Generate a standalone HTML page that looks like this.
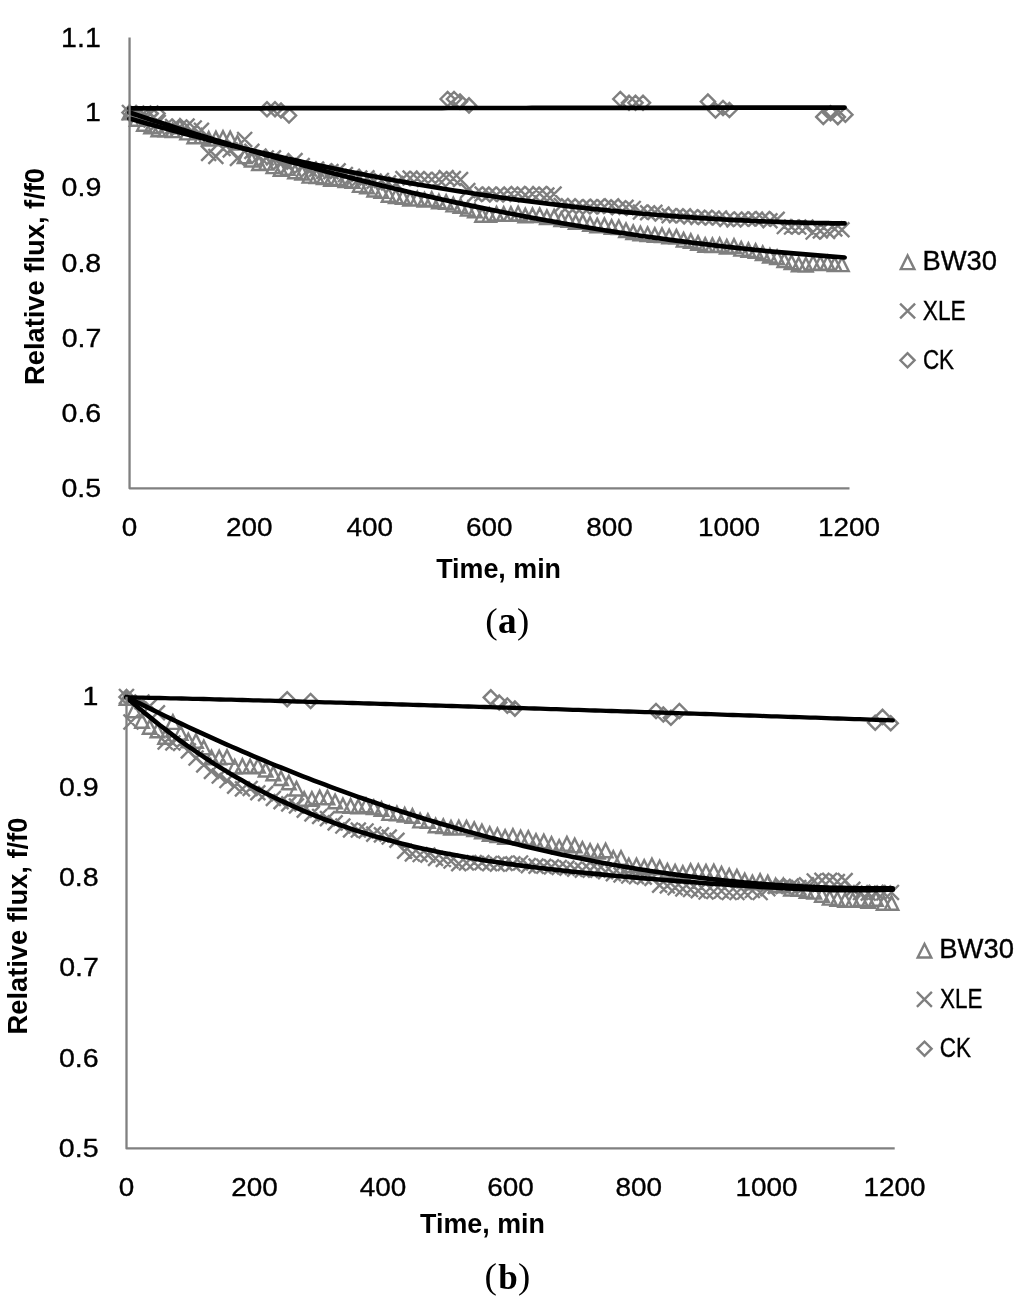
<!DOCTYPE html>
<html lang="en"><head><meta charset="utf-8"><title>Relative flux vs time</title>
<style>html,body{margin:0;padding:0;background:#fff}svg{display:block}</style></head>
<body>
<svg width="1024" height="1300" viewBox="0 0 1024 1300">
<rect width="1024" height="1300" fill="#fff"/>
<path d="M122.7 119.3L129.5 105.7L136.3 119.3ZM129.9 125.8L136.7 112.2L143.5 125.8ZM137.1 130.8L143.9 117.2L150.7 130.8ZM144.3 133.3L151.1 119.7L157.9 133.3ZM151.5 136.2L158.3 122.6L165.1 136.2ZM158.7 136.6L165.5 123.0L172.3 136.6ZM165.9 137.1L172.7 123.5L179.5 137.1ZM173.1 133.3L179.9 119.7L186.7 133.3ZM180.3 139.4L187.1 125.8L193.9 139.4ZM187.5 143.2L194.3 129.6L201.1 143.2ZM194.7 143.1L201.5 129.5L208.3 143.1ZM201.9 145.5L208.7 131.9L215.5 145.5ZM209.1 145.4L215.9 131.8L222.7 145.4ZM216.2 144.9L223.0 131.3L229.8 144.9ZM223.4 145.3L230.2 131.7L237.0 145.3ZM230.6 149.6L237.4 136.0L244.2 149.6ZM237.8 163.1L244.6 149.5L251.4 163.1ZM245.0 166.5L251.8 152.9L258.6 166.5ZM252.2 170.0L259.0 156.4L265.8 170.0ZM259.4 169.6L266.2 156.0L273.0 169.6ZM266.6 173.1L273.4 159.5L280.2 173.1ZM273.8 175.9L280.6 162.3L287.4 175.9ZM281.0 174.7L287.8 161.1L294.6 174.7ZM288.2 178.2L295.0 164.6L301.8 178.2ZM295.4 179.5L302.2 165.9L309.0 179.5ZM302.6 182.6L309.4 169.0L316.2 182.6ZM309.8 183.1L316.6 169.5L323.4 183.1ZM317.0 184.0L323.8 170.4L330.6 184.0ZM324.2 185.7L331.0 172.1L337.8 185.7ZM331.4 184.9L338.2 171.3L345.0 184.9ZM338.6 187.0L345.4 173.4L352.2 187.0ZM345.8 187.7L352.6 174.1L359.4 187.7ZM353.0 191.9L359.8 178.3L366.6 191.9ZM360.2 193.3L367.0 179.7L373.8 193.3ZM367.4 196.5L374.2 182.9L381.0 196.5ZM374.6 197.9L381.4 184.3L388.2 197.9ZM381.8 201.8L388.6 188.2L395.4 201.8ZM389.0 203.1L395.8 189.5L402.6 203.1ZM396.1 203.9L402.9 190.3L409.7 203.9ZM403.3 205.6L410.1 192.0L416.9 205.6ZM410.5 205.4L417.3 191.8L424.1 205.4ZM417.7 206.6L424.5 193.0L431.3 206.6ZM424.9 205.9L431.7 192.3L438.5 205.9ZM432.1 208.2L438.9 194.6L445.7 208.2ZM439.3 208.7L446.1 195.1L452.9 208.7ZM446.5 211.4L453.3 197.8L460.1 211.4ZM453.7 212.7L460.5 199.1L467.3 212.7ZM460.9 215.5L467.7 201.9L474.5 215.5ZM468.1 217.4L474.9 203.8L481.7 217.4ZM475.3 221.8L482.1 208.2L488.9 221.8ZM482.5 221.7L489.3 208.1L496.1 221.7ZM489.7 220.5L496.5 206.9L503.3 220.5ZM496.9 220.9L503.7 207.3L510.5 220.9ZM504.1 220.9L510.9 207.3L517.7 220.9ZM511.3 220.4L518.1 206.8L524.9 220.4ZM518.5 222.4L525.3 208.8L532.1 222.4ZM525.7 222.0L532.5 208.4L539.3 222.0ZM532.9 222.0L539.7 208.4L546.5 222.0ZM540.1 224.1L546.9 210.5L553.7 224.1ZM547.3 223.5L554.1 209.9L560.9 223.5ZM554.5 226.1L561.3 212.5L568.1 226.1ZM561.7 226.8L568.5 213.2L575.3 226.8ZM568.9 228.9L575.7 215.3L582.5 228.9ZM576.0 228.6L582.8 215.0L589.6 228.6ZM583.2 230.7L590.0 217.1L596.8 230.7ZM590.4 232.2L597.2 218.6L604.0 232.2ZM597.6 232.0L604.4 218.4L611.2 232.0ZM604.8 233.7L611.6 220.1L618.4 233.7ZM612.0 234.0L618.8 220.4L625.6 234.0ZM619.2 237.1L626.0 223.5L632.8 237.1ZM626.4 239.1L633.2 225.5L640.0 239.1ZM633.6 240.3L640.4 226.7L647.2 240.3ZM640.8 241.1L647.6 227.5L654.4 241.1ZM648.0 241.8L654.8 228.2L661.6 241.8ZM655.2 242.0L662.0 228.4L668.8 242.0ZM662.4 243.2L669.2 229.6L676.0 243.2ZM669.6 243.6L676.4 230.0L683.2 243.6ZM676.8 246.6L683.6 233.0L690.4 246.6ZM684.0 247.7L690.8 234.1L697.6 247.7ZM691.2 249.7L698.0 236.1L704.8 249.7ZM698.4 251.7L705.2 238.1L712.0 251.7ZM705.6 252.1L712.4 238.5L719.2 252.1ZM712.8 251.8L719.6 238.2L726.4 251.8ZM720.0 253.5L726.8 239.9L733.6 253.5ZM727.2 252.7L734.0 239.1L740.8 252.7ZM734.4 255.6L741.2 242.0L748.0 255.6ZM741.6 256.7L748.4 243.1L755.2 256.7ZM748.8 257.7L755.6 244.1L762.4 257.7ZM755.9 260.1L762.7 246.5L769.5 260.1ZM763.1 262.5L769.9 248.9L776.7 262.5ZM770.3 264.0L777.1 250.4L783.9 264.0ZM777.5 267.0L784.3 253.4L791.1 267.0ZM784.7 269.1L791.5 255.5L798.3 269.1ZM791.9 271.4L798.7 257.8L805.5 271.4ZM799.1 271.6L805.9 258.0L812.7 271.6ZM806.3 269.6L813.1 256.0L819.9 269.6ZM813.5 270.1L820.3 256.5L827.1 270.1ZM820.7 269.6L827.5 256.0L834.3 269.6ZM827.9 271.1L834.7 257.5L841.5 271.1ZM835.1 271.1L841.9 257.5L848.7 271.1Z" fill="none" stroke="#7f7f7f" stroke-width="2.4" stroke-linejoin="miter"/>
<path d="M122.0 105.0L136.9 120.0M122.0 120.0L136.9 105.0M129.2 107.5L144.1 122.4M129.2 122.4L144.1 107.5M136.4 109.5L151.3 124.4M136.4 124.4L151.3 109.5M143.6 112.6L158.5 127.5M143.6 127.5L158.5 112.6M150.8 115.0L165.7 129.9M150.8 129.9L165.7 115.0M158.0 118.5L172.9 133.4M158.0 133.4L172.9 118.5M165.2 119.0L180.1 133.9M165.2 133.9L180.1 119.0M172.4 119.5L187.3 134.4M172.4 134.4L187.3 119.5M179.6 118.6L194.5 133.5M179.6 133.5L194.5 118.6M186.8 120.5L201.7 135.4M186.8 135.4L201.7 120.5M194.0 122.8L208.9 137.7M194.0 137.7L208.9 122.8M201.2 145.9L216.1 160.8M201.2 160.8L216.1 145.9M208.4 149.0L223.3 163.9M208.4 163.9L223.3 149.0M215.6 141.1L230.5 156.0M215.6 156.0L230.5 141.1M222.8 142.5L237.7 157.4M222.8 157.4L237.7 142.5M230.0 151.0L244.9 165.9M230.0 165.9L244.9 151.0M237.2 132.0L252.1 146.9M237.2 146.9L252.1 132.0M244.4 143.9L259.3 158.8M244.4 158.8L259.3 143.9M251.6 148.6L266.5 163.5M251.6 163.5L266.5 148.6M258.8 150.5L273.7 165.4M258.8 165.4L273.7 150.5M266.0 150.4L280.9 165.3M266.0 165.3L280.9 150.4M273.2 154.7L288.1 169.6M273.2 169.6L288.1 154.7M280.4 158.5L295.3 173.4M280.4 173.4L295.3 158.5M287.6 153.1L302.5 168.0M287.6 168.0L302.5 153.1M294.8 158.1L309.7 173.0M294.8 173.0L309.7 158.1M301.9 161.4L316.8 176.3M301.9 176.3L316.8 161.4M309.1 161.7L324.0 176.6M309.1 176.6L324.0 161.7M316.3 164.0L331.2 178.9M316.3 178.9L331.2 164.0M323.5 164.2L338.4 179.1M323.5 179.1L338.4 164.2M330.7 163.3L345.6 178.2M330.7 178.2L345.6 163.3M337.9 167.1L352.8 182.0M337.9 182.0L352.8 167.1M345.1 168.8L360.0 183.7M345.1 183.7L360.0 168.8M352.3 170.6L367.2 185.5M352.3 185.5L367.2 170.6M359.5 170.4L374.4 185.3M359.5 185.3L374.4 170.4M366.7 173.7L381.6 188.6M366.7 188.6L381.6 173.7M373.9 173.0L388.8 187.9M373.9 187.9L388.8 173.0M381.1 175.4L396.0 190.3M381.1 190.3L396.0 175.4M388.3 176.0L403.2 190.9M388.3 190.9L403.2 176.0M395.5 171.2L410.4 186.0M395.5 186.0L410.4 171.2M402.7 170.7L417.6 185.5M402.7 185.5L417.6 170.7M409.9 171.2L424.8 186.0M409.9 186.0L424.8 171.2M417.1 172.2L432.0 187.0M417.1 187.0L432.0 172.2M424.3 172.2L439.2 187.0M424.3 187.0L439.2 172.2M431.5 172.2L446.4 187.0M431.5 187.0L446.4 172.2M438.7 170.2L453.6 185.0M438.7 185.0L453.6 170.2M445.9 171.2L460.8 186.0M445.9 186.0L460.8 171.2M453.1 172.2L468.0 187.0M453.1 187.0L468.0 172.2M460.3 183.1L475.2 198.0M460.3 198.0L475.2 183.1M467.5 187.1L482.4 201.9M467.5 201.9L482.4 187.1M474.7 186.6L489.6 201.4M474.7 201.4L489.6 186.6M481.9 186.6L496.8 201.4M481.9 201.4L496.8 186.6M489.0 187.6L503.9 202.4M489.0 202.4L503.9 187.6M496.2 187.1L511.1 201.9M496.2 201.9L511.1 187.1M503.4 186.6L518.3 201.4M503.4 201.4L518.3 186.6M510.6 186.1L525.5 200.9M510.6 200.9L525.5 186.1M517.8 187.6L532.7 202.4M517.8 202.4L532.7 187.6M525.0 186.6L539.9 201.4M525.0 201.4L539.9 186.6M532.2 186.1L547.1 200.9M532.2 200.9L547.1 186.1M539.4 187.6L554.3 202.4M539.4 202.4L554.3 187.6M546.6 186.6L561.5 201.4M546.6 201.4L561.5 186.6M553.8 198.0L568.7 212.9M553.8 212.9L568.7 198.0M561.0 198.4L575.9 213.2M561.0 213.2L575.9 198.4M568.2 199.4L583.1 214.2M568.2 214.2L583.1 199.4M575.4 199.4L590.3 214.2M575.4 214.2L590.3 199.4M582.6 199.4L597.5 214.2M582.6 214.2L597.5 199.4M589.8 198.9L604.7 213.8M589.8 213.8L604.7 198.9M597.0 199.4L611.9 214.2M597.0 214.2L611.9 199.4M604.2 198.4L619.1 213.2M604.2 213.2L619.1 198.4M611.4 200.4L626.3 215.2M611.4 215.2L626.3 200.4M618.6 199.9L633.5 214.8M618.6 214.8L633.5 199.9M625.8 201.0L640.7 215.9M625.8 215.9L640.7 201.0M633.0 204.6L647.9 219.5M633.0 219.5L647.9 204.6M640.2 205.3L655.1 220.2M640.2 220.2L655.1 205.3M647.4 204.9L662.3 219.8M647.4 219.8L662.3 204.9M654.6 206.6L669.5 221.5M654.6 221.5L669.5 206.6M661.7 208.3L676.6 223.2M661.7 223.2L676.6 208.3M668.9 208.3L683.8 223.2M668.9 223.2L683.8 208.3M676.1 208.3L691.0 223.2M676.1 223.2L691.0 208.3M683.3 209.4L698.2 224.3M683.3 224.3L698.2 209.4M690.5 209.9L705.4 224.8M690.5 224.8L705.4 209.9M697.7 209.9L712.6 224.8M697.7 224.8L712.6 209.9M704.9 210.5L719.8 225.4M704.9 225.4L719.8 210.5M712.1 210.5L727.0 225.4M712.1 225.4L727.0 210.5M719.3 212.0L734.2 226.9M719.3 226.9L734.2 212.0M726.5 212.5L741.4 227.4M726.5 227.4L741.4 212.5M733.7 211.6L748.6 226.5M733.7 226.5L748.6 211.6M740.9 211.6L755.8 226.5M740.9 226.5L755.8 211.6M748.1 211.7L763.0 226.6M748.1 226.6L763.0 211.7M755.3 211.2L770.2 226.1M755.3 226.1L770.2 211.2M762.5 213.3L777.4 228.2M762.5 228.2L777.4 213.3M769.7 211.8L784.6 226.7M769.7 226.7L784.6 211.8M776.9 219.2L791.8 234.0M776.9 234.0L791.8 219.2M784.1 219.7L799.0 234.5M784.1 234.5L799.0 219.7M791.3 219.7L806.2 234.5M791.3 234.5L806.2 219.7M798.5 219.7L813.4 234.5M798.5 234.5L813.4 219.7M805.7 224.6L820.6 239.5M805.7 239.5L820.6 224.6M812.9 223.5L827.8 238.4M812.9 238.4L827.8 223.5M820.1 223.9L835.0 238.8M820.1 238.8L835.0 223.9M827.3 221.4L842.2 236.3M827.3 236.3L842.2 221.4M834.5 222.3L849.4 237.2M834.5 237.2L849.4 222.3" fill="none" stroke="#7f7f7f" stroke-width="2.4" stroke-linejoin="miter"/>
<path d="M122.4 112.5L129.5 105.4L136.6 112.5L129.5 119.6ZM129.3 113.6L136.4 106.5L143.5 113.6L136.4 120.7ZM136.3 113.6L143.4 106.5L150.5 113.6L143.4 120.7ZM143.4 113.6L150.5 106.5L157.6 113.6L150.5 120.7ZM150.4 113.6L157.5 106.5L164.6 113.6L157.5 120.7ZM259.9 109.2L267.0 102.1L274.1 109.2L267.0 116.3ZM267.9 109.2L275.0 102.1L282.1 109.2L275.0 116.3ZM273.9 110.5L281.0 103.4L288.1 110.5L281.0 117.6ZM281.9 115.5L289.0 108.4L296.1 115.5L289.0 122.6ZM440.5 99.0L447.6 91.9L454.7 99.0L447.6 106.1ZM446.9 99.0L454.0 91.9L461.1 99.0L454.0 106.1ZM452.9 101.6L460.0 94.5L467.1 101.6L460.0 108.7ZM461.9 105.4L469.0 98.3L476.1 105.4L469.0 112.5ZM613.2 99.0L620.3 91.9L627.4 99.0L620.3 106.1ZM621.9 102.8L629.0 95.7L636.1 102.8L629.0 109.9ZM628.4 102.8L635.5 95.7L642.6 102.8L635.5 109.9ZM635.9 102.8L643.0 95.7L650.1 102.8L643.0 109.9ZM700.8 101.6L707.9 94.5L715.0 101.6L707.9 108.7ZM708.4 110.5L715.5 103.4L722.6 110.5L715.5 117.6ZM715.9 108.0L723.0 100.9L730.1 108.0L723.0 115.1ZM722.3 110.0L729.4 102.9L736.5 110.0L729.4 117.1ZM816.2 116.9L823.3 109.8L830.4 116.9L823.3 124.0ZM823.4 113.2L830.5 106.1L837.6 113.2L830.5 120.3ZM830.7 117.1L837.8 110.0L844.9 117.1L837.8 124.2ZM838.3 114.7L845.4 107.6L852.5 114.7L845.4 121.8Z" fill="none" stroke="#7f7f7f" stroke-width="2.4" stroke-linejoin="miter"/>
<path d="M129.5 108.4L135.5 108.4L141.5 108.4L147.5 108.4L153.5 108.4L159.5 108.4L165.6 108.4L171.6 108.4L177.6 108.3L183.6 108.3L189.6 108.3L195.6 108.3L201.6 108.3L207.6 108.3L213.6 108.3L219.6 108.3L225.6 108.3L231.7 108.3L237.7 108.3L243.7 108.3L249.7 108.3L255.7 108.3L261.7 108.3L267.7 108.2L273.7 108.2L279.7 108.2L285.7 108.2L291.7 108.2L297.8 108.2L303.8 108.2L309.8 108.2L315.8 108.2L321.8 108.2L327.8 108.2L333.8 108.2L339.8 108.2L345.8 108.2L351.8 108.2L357.9 108.1L363.9 108.1L369.9 108.1L375.9 108.1L381.9 108.1L387.9 108.1L393.9 108.1L399.9 108.1L405.9 108.1L411.9 108.1L417.9 108.1L424.0 108.1L430.0 108.1L436.0 108.1L442.0 108.1L448.0 108.0L454.0 108.0L460.0 108.0L466.0 108.0L472.0 108.0L478.0 108.0L484.0 108.0L490.1 108.0L496.1 108.0L502.1 108.0L508.1 108.0L514.1 108.0L520.1 108.0L526.1 108.0L532.1 107.9L538.1 107.9L544.1 107.9L550.1 107.9L556.2 107.9L562.2 107.9L568.2 107.9L574.2 107.9L580.2 107.9L586.2 107.9L592.2 107.9L598.2 107.9L604.2 107.9L610.2 107.9L616.2 107.9L622.3 107.8L628.3 107.8L634.3 107.8L640.3 107.8L646.3 107.8L652.3 107.8L658.3 107.8L664.3 107.8L670.3 107.8L676.3 107.8L682.4 107.8L688.4 107.8L694.4 107.8L700.4 107.8L706.4 107.8L712.4 107.7L718.4 107.7L724.4 107.7L730.4 107.7L736.4 107.7L742.4 107.7L748.5 107.7L754.5 107.7L760.5 107.7L766.5 107.7L772.5 107.7L778.5 107.7L784.5 107.7L790.5 107.7L796.5 107.7L802.5 107.6L808.5 107.6L814.6 107.6L820.6 107.6L826.6 107.6L832.6 107.6L838.6 107.6L844.6 107.6" fill="none" stroke="#000" stroke-width="4.7" stroke-linecap="round" stroke-linejoin="round"/>
<path d="M129.5 118.6L135.5 120.3L141.5 122.0L147.5 123.7L153.5 125.3L159.5 126.9L165.6 128.6L171.6 130.2L177.6 131.8L183.6 133.4L189.6 135.0L195.6 136.5L201.6 138.1L207.6 139.6L213.6 141.1L219.6 142.6L225.6 144.1L231.7 145.6L237.7 147.0L243.7 148.5L249.7 149.9L255.7 151.3L261.7 152.7L267.7 154.1L273.7 155.5L279.7 156.9L285.7 158.2L291.7 159.6L297.8 160.9L303.8 162.2L309.8 163.5L315.8 164.8L321.8 166.1L327.8 167.3L333.8 168.5L339.8 169.8L345.8 171.0L351.8 172.2L357.9 173.4L363.9 174.5L369.9 175.7L375.9 176.8L381.9 178.0L387.9 179.1L393.9 180.2L399.9 181.3L405.9 182.4L411.9 183.4L417.9 184.5L424.0 185.5L430.0 186.5L436.0 187.5L442.0 188.5L448.0 189.5L454.0 190.5L460.0 191.4L466.0 192.3L472.0 193.3L478.0 194.2L484.0 195.1L490.1 195.9L496.1 196.8L502.1 197.7L508.1 198.5L514.1 199.3L520.1 200.1L526.1 200.9L532.1 201.7L538.1 202.5L544.1 203.2L550.1 204.0L556.2 204.7L562.2 205.4L568.2 206.1L574.2 206.8L580.2 207.5L586.2 208.2L592.2 208.8L598.2 209.4L604.2 210.0L610.2 210.7L616.2 211.2L622.3 211.8L628.3 212.4L634.3 212.9L640.3 213.5L646.3 214.0L652.3 214.5L658.3 215.0L664.3 215.5L670.3 215.9L676.3 216.4L682.4 216.8L688.4 217.2L694.4 217.7L700.4 218.1L706.4 218.4L712.4 218.8L718.4 219.2L724.4 219.5L730.4 219.8L736.4 220.1L742.4 220.4L748.5 220.7L754.5 221.0L760.5 221.3L766.5 221.5L772.5 221.7L778.5 221.9L784.5 222.1L790.5 222.3L796.5 222.5L802.5 222.7L808.5 222.8L814.6 223.0L820.6 223.1L826.6 223.2L832.6 223.3L838.6 223.3L844.6 223.4" fill="none" stroke="#000" stroke-width="4.7" stroke-linecap="round" stroke-linejoin="round"/>
<path d="M129.5 112.4L135.5 114.4L141.5 116.4L147.5 118.4L153.5 120.4L159.5 122.3L165.6 124.3L171.6 126.2L177.6 128.2L183.6 130.1L189.6 132.0L195.6 133.9L201.6 135.7L207.6 137.6L213.6 139.4L219.6 141.3L225.6 143.1L231.7 144.9L237.7 146.7L243.7 148.5L249.7 150.2L255.7 152.0L261.7 153.7L267.7 155.4L273.7 157.1L279.7 158.8L285.7 160.5L291.7 162.2L297.8 163.8L303.8 165.5L309.8 167.1L315.8 168.7L321.8 170.3L327.8 171.9L333.8 173.5L339.8 175.0L345.8 176.6L351.8 178.1L357.9 179.6L363.9 181.1L369.9 182.6L375.9 184.1L381.9 185.6L387.9 187.0L393.9 188.5L399.9 189.9L405.9 191.3L411.9 192.7L417.9 194.1L424.0 195.4L430.0 196.8L436.0 198.1L442.0 199.5L448.0 200.8L454.0 202.1L460.0 203.4L466.0 204.6L472.0 205.9L478.0 207.1L484.0 208.4L490.1 209.6L496.1 210.8L502.1 212.0L508.1 213.2L514.1 214.3L520.1 215.5L526.1 216.6L532.1 217.7L538.1 218.9L544.1 220.0L550.1 221.0L556.2 222.1L562.2 223.2L568.2 224.2L574.2 225.2L580.2 226.2L586.2 227.2L592.2 228.2L598.2 229.2L604.2 230.2L610.2 231.1L616.2 232.1L622.3 233.0L628.3 233.9L634.3 234.8L640.3 235.7L646.3 236.5L652.3 237.4L658.3 238.2L664.3 239.0L670.3 239.8L676.3 240.6L682.4 241.4L688.4 242.2L694.4 243.0L700.4 243.7L706.4 244.4L712.4 245.1L718.4 245.8L724.4 246.5L730.4 247.2L736.4 247.9L742.4 248.5L748.5 249.2L754.5 249.8L760.5 250.4L766.5 251.0L772.5 251.6L778.5 252.1L784.5 252.7L790.5 253.2L796.5 253.7L802.5 254.2L808.5 254.7L814.6 255.2L820.6 255.7L826.6 256.2L832.6 256.6L838.6 257.0L844.6 257.5" fill="none" stroke="#000" stroke-width="4.7" stroke-linecap="round" stroke-linejoin="round"/>
<path d="M129.55 37.5V488.3H849.5" fill="none" stroke="#808080" stroke-width="2.3" stroke-linejoin="round"/>
<path d="M119.7 704.8L126.5 691.2L133.3 704.8ZM127.4 717.3L134.2 703.7L141.0 717.3ZM135.2 727.7L142.0 714.1L148.8 727.7ZM142.9 733.8L149.7 720.2L156.5 733.8ZM150.6 737.3L157.4 723.7L164.2 737.3ZM158.3 743.7L165.1 730.1L171.9 743.7ZM166.1 728.9L172.9 715.3L179.7 728.9ZM173.8 739.8L180.6 726.2L187.4 739.8ZM181.5 747.3L188.3 733.7L195.1 747.3ZM189.2 747.8L196.0 734.2L202.8 747.8ZM197.0 754.3L203.8 740.7L210.6 754.3ZM204.7 764.3L211.5 750.7L218.3 764.3ZM212.4 764.2L219.2 750.6L226.0 764.2ZM220.2 763.9L227.0 750.3L233.8 763.9ZM227.9 773.5L234.7 759.9L241.5 773.5ZM235.6 772.9L242.4 759.3L249.2 772.9ZM243.3 773.2L250.1 759.6L256.9 773.2ZM251.1 772.6L257.9 759.0L264.7 772.6ZM258.8 776.5L265.6 762.9L272.4 776.5ZM266.5 780.3L273.3 766.7L280.1 780.3ZM274.2 785.0L281.0 771.4L287.8 785.0ZM282.0 789.3L288.8 775.7L295.6 789.3ZM289.7 795.5L296.5 781.9L303.3 795.5ZM297.4 805.8L304.2 792.2L311.0 805.8ZM305.1 805.8L311.9 792.2L318.7 805.8ZM312.9 804.3L319.7 790.7L326.5 804.3ZM320.6 804.3L327.4 790.7L334.2 804.3ZM328.3 808.3L335.1 794.7L341.9 808.3ZM336.1 812.3L342.9 798.7L349.7 812.3ZM343.8 812.8L350.6 799.2L357.4 812.8ZM351.5 813.3L358.3 799.7L365.1 813.3ZM359.2 812.1L366.0 798.5L372.8 812.1ZM367.0 814.0L373.8 800.4L380.6 814.0ZM374.7 815.7L381.5 802.1L388.3 815.7ZM382.4 819.9L389.2 806.3L396.0 819.9ZM390.1 820.2L396.9 806.6L403.7 820.2ZM397.9 821.5L404.7 807.9L411.5 821.5ZM405.6 822.7L412.4 809.1L419.2 822.7ZM413.3 827.4L420.1 813.8L426.9 827.4ZM421.1 827.8L427.9 814.2L434.7 827.8ZM428.8 832.2L435.6 818.6L442.4 832.2ZM436.5 833.0L443.3 819.4L450.1 833.0ZM444.2 834.5L451.0 820.9L457.8 834.5ZM452.0 834.4L458.8 820.8L465.6 834.4ZM459.7 834.5L466.5 820.9L473.3 834.5ZM467.4 836.0L474.2 822.4L481.0 836.0ZM475.1 838.4L481.9 824.8L488.7 838.4ZM482.9 840.7L489.7 827.1L496.5 840.7ZM490.6 842.0L497.4 828.4L504.2 842.0ZM498.3 843.9L505.1 830.3L511.9 843.9ZM506.1 842.7L512.9 829.1L519.6 842.7ZM513.8 844.2L520.6 830.6L527.4 844.2ZM521.5 844.8L528.3 831.2L535.1 844.8ZM529.2 847.8L536.0 834.2L542.8 847.8ZM537.0 848.3L543.8 834.7L550.6 848.3ZM544.7 850.8L551.5 837.2L558.3 850.8ZM552.4 853.7L559.2 840.1L566.0 853.7ZM560.1 850.6L566.9 837.0L573.7 850.6ZM567.9 852.3L574.7 838.7L581.5 852.3ZM575.6 855.9L582.4 842.3L589.2 855.9ZM583.3 857.7L590.1 844.1L596.9 857.7ZM591.0 858.6L597.8 845.0L604.6 858.6ZM598.8 857.3L605.6 843.7L612.4 857.3ZM606.5 864.9L613.3 851.3L620.1 864.9ZM614.2 864.8L621.0 851.2L627.8 864.8ZM622.0 872.2L628.8 858.6L635.6 872.2ZM629.7 872.2L636.5 858.6L643.3 872.2ZM637.4 873.7L644.2 860.1L651.0 873.7ZM645.1 872.2L651.9 858.6L658.7 872.2ZM652.9 874.2L659.7 860.6L666.5 874.2ZM660.6 877.5L667.4 863.9L674.2 877.5ZM668.3 878.6L675.1 865.0L681.9 878.6ZM676.0 879.8L682.8 866.2L689.6 879.8ZM683.8 877.9L690.6 864.3L697.4 877.9ZM691.5 878.0L698.3 864.4L705.1 878.0ZM699.2 878.6L706.0 865.0L712.8 878.6ZM707.0 878.3L713.8 864.7L720.6 878.3ZM714.7 880.6L721.5 867.0L728.3 880.6ZM722.4 882.6L729.2 869.0L736.0 882.6ZM730.1 883.5L736.9 869.9L743.7 883.5ZM737.9 887.4L744.7 873.8L751.5 887.4ZM745.6 889.2L752.4 875.6L759.2 889.2ZM753.3 887.7L760.1 874.1L766.9 887.7ZM761.0 889.2L767.8 875.6L774.6 889.2ZM768.8 892.2L775.6 878.6L782.4 892.2ZM776.5 892.2L783.3 878.6L790.1 892.2ZM784.2 895.5L791.0 881.9L797.8 895.5ZM791.9 895.8L798.7 882.2L805.5 895.8ZM799.7 897.7L806.5 884.1L813.3 897.7ZM807.4 898.6L814.2 885.0L821.0 898.6ZM815.1 901.8L821.9 888.2L828.7 901.8ZM822.9 904.6L829.7 891.0L836.5 904.6ZM830.6 905.8L837.4 892.2L844.2 905.8ZM838.3 906.8L845.1 893.2L851.9 906.8ZM846.0 906.8L852.8 893.2L859.6 906.8ZM853.8 905.8L860.6 892.2L867.4 905.8ZM861.5 907.8L868.3 894.2L875.1 907.8ZM869.2 905.8L876.0 892.2L882.8 905.8ZM876.9 909.7L883.7 896.1L890.5 909.7ZM884.7 909.7L891.5 896.1L898.3 909.7Z" fill="none" stroke="#7f7f7f" stroke-width="2.4" stroke-linejoin="miter"/>
<path d="M119.0 689.0L133.9 704.0M119.0 704.0L133.9 689.0M123.5 714.5L138.4 729.5M123.5 729.5L138.4 714.5M134.5 694.5L149.4 709.4M134.5 709.4L149.4 694.5M142.2 698.8L157.1 713.7M142.2 713.7L157.1 698.8M150.0 705.3L164.9 720.2M150.0 720.2L164.9 705.3M157.7 734.6L172.6 749.5M157.7 749.5L172.6 734.6M165.4 735.5L180.3 750.4M165.4 750.4L180.3 735.5M173.1 736.0L188.0 750.9M173.1 750.9L188.0 736.0M180.9 743.4L195.8 758.3M180.9 758.3L195.8 743.4M188.6 750.6L203.5 765.5M188.6 765.5L203.5 750.6M196.3 757.5L211.2 772.4M196.3 772.4L211.2 757.5M204.0 764.0L218.9 778.9M204.0 778.9L218.9 764.0M211.8 768.6L226.7 783.5M211.8 783.5L226.7 768.6M219.5 773.1L234.4 788.0M219.5 788.0L234.4 773.1M227.2 778.7L242.1 793.6M227.2 793.6L242.1 778.7M235.0 781.4L249.9 796.3M235.0 796.3L249.9 781.4M242.7 781.0L257.6 795.9M242.7 795.9L257.6 781.0M250.4 785.3L265.3 800.2M250.4 800.2L265.3 785.3M258.1 786.2L273.0 801.1M258.1 801.1L273.0 786.2M265.9 791.0L280.8 805.9M265.9 805.9L280.8 791.0M273.6 794.2L288.5 809.1M273.6 809.1L288.5 794.2M281.3 796.4L296.2 811.3M281.3 811.3L296.2 796.4M289.0 798.5L303.9 813.4M289.0 813.4L303.9 798.5M296.8 802.7L311.7 817.6M296.8 817.6L311.7 802.7M304.5 806.4L319.4 821.3M304.5 821.3L319.4 806.4M312.2 809.0L327.1 823.9M312.2 823.9L327.1 809.0M320.0 811.2L334.9 826.1M320.0 826.1L334.9 811.2M327.7 815.4L342.6 830.3M327.7 830.3L342.6 815.4M335.4 818.6L350.3 833.5M335.4 833.5L350.3 818.6M343.1 822.5L358.0 837.4M343.1 837.4L358.0 822.5M350.9 822.6L365.8 837.5M350.9 837.5L365.8 822.6M358.6 823.5L373.5 838.4M358.6 838.4L373.5 823.5M366.3 826.7L381.2 841.6M366.3 841.6L381.2 826.7M374.0 827.4L388.9 842.3M374.0 842.3L388.9 827.4M381.8 829.6L396.7 844.5M381.8 844.5L396.7 829.6M389.5 832.8L404.4 847.7M389.5 847.7L404.4 832.8M397.2 843.8L412.1 858.7M397.2 858.7L412.1 843.8M404.9 846.5L419.8 861.4M404.9 861.4L419.8 846.5M412.7 847.1L427.6 862.0M412.7 862.0L427.6 847.1M420.4 847.7L435.3 862.6M420.4 862.6L435.3 847.7M428.1 850.9L443.0 865.8M428.1 865.8L443.0 850.9M435.9 852.0L450.8 866.9M435.9 866.9L450.8 852.0M443.6 853.6L458.5 868.5M443.6 868.5L458.5 853.6M451.3 856.3L466.2 871.2M451.3 871.2L466.2 856.3M459.0 855.4L473.9 870.3M459.0 870.3L473.9 855.4M466.8 855.1L481.7 870.0M466.8 870.0L481.7 855.1M474.5 855.2L489.4 870.1M474.5 870.1L489.4 855.2M482.2 856.2L497.1 871.1M482.2 871.1L497.1 856.2M489.9 856.8L504.8 871.7M489.9 871.7L504.8 856.8M497.7 855.9L512.6 870.8M497.7 870.8L512.6 855.9M505.4 856.4L520.3 871.3M505.4 871.3L520.3 856.4M513.1 855.5L528.0 870.4M513.1 870.4L528.0 855.5M520.9 858.2L535.8 873.1M520.9 873.1L535.8 858.2M528.6 858.7L543.5 873.6M528.6 873.6L543.5 858.7M536.3 858.8L551.2 873.7M536.3 873.7L551.2 858.8M544.0 859.4L558.9 874.3M544.0 874.3L558.9 859.4M551.8 860.0L566.7 874.9M551.8 874.9L566.7 860.0M559.5 860.7L574.4 875.6M559.5 875.6L574.4 860.7M567.2 861.7L582.1 876.6M567.2 876.6L582.1 861.7M574.9 862.7L589.8 877.6M574.9 877.6L589.8 862.7M582.7 862.7L597.6 877.6M582.7 877.6L597.6 862.7M590.4 862.7L605.3 877.6M590.4 877.6L605.3 862.7M598.1 864.3L613.0 879.2M598.1 879.2L613.0 864.3M605.9 866.2L620.8 881.1M605.9 881.1L620.8 866.2M613.6 867.5L628.5 882.4M613.6 882.4L628.5 867.5M621.3 868.6L636.2 883.5M621.3 883.5L636.2 868.6M629.0 869.2L643.9 884.1M629.0 884.1L643.9 869.2M636.8 869.8L651.7 884.7M636.8 884.7L651.7 869.8M644.5 870.9L659.4 885.8M644.5 885.8L659.4 870.9M652.2 877.8L667.1 892.7M652.2 892.7L667.1 877.8M659.9 878.5L674.8 893.4M659.9 893.4L674.8 878.5M667.7 880.2L682.6 895.1M667.7 895.1L682.6 880.2M675.4 881.4L690.3 896.3M675.4 896.3L690.3 881.4M683.1 882.1L698.0 897.0M683.1 897.0L698.0 882.1M690.8 883.3L705.7 898.2M690.8 898.2L705.7 883.3M698.6 884.5L713.5 899.5M698.6 899.5L713.5 884.5M706.3 884.0L721.2 899.0M706.3 899.0L721.2 884.0M714.0 883.5L728.9 898.5M714.0 898.5L728.9 883.5M721.8 885.0L736.7 900.0M721.8 900.0L736.7 885.0M729.5 885.0L744.4 900.0M729.5 900.0L744.4 885.0M737.2 884.5L752.1 899.5M737.2 899.5L752.1 884.5M744.9 883.0L759.8 898.0M744.9 898.0L759.8 883.0M752.7 885.0L767.6 900.0M752.7 900.0L767.6 885.0M760.4 881.2L775.3 896.1M760.4 896.1L775.3 881.2M768.1 879.0L783.0 893.9M768.1 893.9L783.0 879.0M775.8 878.9L790.7 893.8M775.8 893.8L790.7 878.9M783.6 878.7L798.5 893.6M783.6 893.6L798.5 878.7M791.3 880.1L806.2 895.0M791.3 895.0L806.2 880.1M799.0 877.3L813.9 892.2M799.0 892.2L813.9 877.3M806.8 873.5L821.7 888.4M806.8 888.4L821.7 873.5M814.5 872.9L829.4 887.8M814.5 887.8L829.4 872.9M822.2 872.8L837.1 887.7M822.2 887.7L837.1 872.8M829.9 874.2L844.8 889.1M829.9 889.1L844.8 874.2M837.7 873.2L852.6 888.1M837.7 888.1L852.6 873.2M845.4 881.9L860.3 896.8M845.4 896.8L860.3 881.9M853.1 885.1L868.0 900.0M853.1 900.0L868.0 885.1M860.8 885.7L875.7 900.6M860.8 900.6L875.7 885.7M868.6 884.8L883.5 899.7M868.6 899.7L883.5 884.8M876.3 885.4L891.2 900.3M876.3 900.3L891.2 885.4M884.0 885.0L898.9 899.9M884.0 899.9L898.9 885.0" fill="none" stroke="#7f7f7f" stroke-width="2.4" stroke-linejoin="miter"/>
<path d="M119.4 697.0L126.5 689.9L133.6 697.0L126.5 704.1ZM280.1 699.2L287.2 692.1L294.3 699.2L287.2 706.3ZM303.5 701.0L310.6 693.9L317.7 701.0L310.6 708.1ZM483.7 697.4L490.8 690.3L497.9 697.4L490.8 704.5ZM492.1 702.5L499.2 695.4L506.3 702.5L499.2 709.6ZM500.2 705.6L507.3 698.5L514.4 705.6L507.3 712.7ZM507.8 708.6L514.9 701.5L522.0 708.6L514.9 715.7ZM648.9 711.0L656.0 703.9L663.1 711.0L656.0 718.1ZM656.2 714.5L663.3 707.4L670.4 714.5L663.3 721.6ZM663.8 717.8L670.9 710.7L678.0 717.8L670.9 724.9ZM672.3 711.0L679.4 703.9L686.5 711.0L679.4 718.1ZM868.1 722.7L875.2 715.6L882.3 722.7L875.2 729.8ZM875.4 716.9L882.5 709.8L889.6 716.9L882.5 724.0ZM883.6 723.3L890.7 716.2L897.8 723.3L890.7 730.4Z" fill="none" stroke="#7f7f7f" stroke-width="2.4" stroke-linejoin="miter"/>
<path d="M126.5 697.4L132.0 697.5L137.5 697.6L143.0 697.7L148.6 697.8L154.1 697.9L159.6 698.0L165.1 698.1L170.6 698.3L176.1 698.4L181.6 698.5L187.1 698.6L192.7 698.8L198.2 698.9L203.7 699.0L209.2 699.2L214.7 699.3L220.2 699.5L225.7 699.6L231.2 699.7L236.8 699.9L242.3 700.0L247.8 700.2L253.3 700.3L258.8 700.4L264.3 700.6L269.8 700.7L275.3 700.9L280.9 701.0L286.4 701.2L291.9 701.3L297.4 701.5L302.9 701.6L308.4 701.8L313.9 702.0L319.5 702.1L325.0 702.3L330.5 702.4L336.0 702.6L341.5 702.7L347.0 702.9L352.5 703.0L358.0 703.2L363.6 703.4L369.1 703.5L374.6 703.7L380.1 703.8L385.6 704.0L391.1 704.2L396.6 704.3L402.1 704.5L407.7 704.7L413.2 704.8L418.7 705.0L424.2 705.1L429.7 705.3L435.2 705.5L440.7 705.6L446.3 705.8L451.8 706.0L457.3 706.1L462.8 706.3L468.3 706.5L473.8 706.7L479.3 706.8L484.8 707.0L490.4 707.2L495.9 707.3L501.4 707.5L506.9 707.7L512.4 707.8L517.9 708.0L523.4 708.2L528.9 708.4L534.5 708.5L540.0 708.7L545.5 708.9L551.0 709.1L556.5 709.2L562.0 709.4L567.5 709.6L573.0 709.8L578.6 709.9L584.1 710.1L589.6 710.3L595.1 710.5L600.6 710.6L606.1 710.8L611.6 711.0L617.2 711.2L622.7 711.3L628.2 711.5L633.7 711.7L639.2 711.9L644.7 712.1L650.2 712.2L655.7 712.4L661.3 712.6L666.8 712.8L672.3 713.0L677.8 713.1L683.3 713.3L688.8 713.5L694.3 713.7L699.8 713.9L705.4 714.0L710.9 714.2L716.4 714.4L721.9 714.6L727.4 714.8L732.9 715.0L738.4 715.1L744.0 715.3L749.5 715.5L755.0 715.7L760.5 715.9L766.0 716.1L771.5 716.3L777.0 716.4L782.5 716.6L788.1 716.8L793.6 717.0L799.1 717.2L804.6 717.4L810.1 717.6L815.6 717.7L821.1 717.9L826.6 718.1L832.2 718.3L837.7 718.5L843.2 718.7L848.7 718.9L854.2 719.1L859.7 719.2L865.2 719.4L870.7 719.6L876.3 719.8L881.8 720.0L887.3 720.2L892.8 720.4" fill="none" stroke="#000" stroke-width="4.3" stroke-linecap="round" stroke-linejoin="round"/>
<path d="M126.5 697.4L132.0 702.2L137.5 706.9L143.0 711.6L148.6 716.1L154.1 720.6L159.6 725.0L165.1 729.2L170.6 733.4L176.1 737.6L181.6 741.6L187.1 745.6L192.7 749.4L198.2 753.2L203.7 756.9L209.2 760.5L214.7 764.1L220.2 767.5L225.7 770.9L231.2 774.2L236.8 777.5L242.3 780.6L247.8 783.7L253.3 786.7L258.8 789.6L264.3 792.5L269.8 795.3L275.3 798.0L280.9 800.6L286.4 803.2L291.9 805.7L297.4 808.2L302.9 810.6L308.4 812.9L313.9 815.1L319.5 817.3L325.0 819.5L330.5 821.5L336.0 823.6L341.5 825.5L347.0 827.4L352.5 829.3L358.0 831.1L363.6 832.8L369.1 834.5L374.6 836.2L380.1 837.8L385.6 839.3L391.1 840.8L396.6 842.3L402.1 843.7L407.7 845.1L413.2 846.4L418.7 847.7L424.2 848.9L429.7 850.1L435.2 851.3L440.7 852.4L446.3 853.5L451.8 854.6L457.3 855.6L462.8 856.6L468.3 857.6L473.8 858.6L479.3 859.5L484.8 860.4L490.4 861.2L495.9 862.1L501.4 862.9L506.9 863.7L512.4 864.4L517.9 865.2L523.4 865.9L528.9 866.6L534.5 867.3L540.0 868.0L545.5 868.6L551.0 869.3L556.5 869.9L562.0 870.5L567.5 871.1L573.0 871.7L578.6 872.3L584.1 872.8L589.6 873.4L595.1 873.9L600.6 874.4L606.1 875.0L611.6 875.5L617.2 876.0L622.7 876.5L628.2 876.9L633.7 877.4L639.2 877.9L644.7 878.4L650.2 878.8L655.7 879.3L661.3 879.7L666.8 880.2L672.3 880.6L677.8 881.1L683.3 881.5L688.8 881.9L694.3 882.3L699.8 882.7L705.4 883.2L710.9 883.6L716.4 884.0L721.9 884.3L727.4 884.7L732.9 885.1L738.4 885.5L744.0 885.8L749.5 886.2L755.0 886.5L760.5 886.9L766.0 887.2L771.5 887.5L777.0 887.8L782.5 888.1L788.1 888.4L793.6 888.7L799.1 888.9L804.6 889.2L810.1 889.4L815.6 889.6L821.1 889.8L826.6 889.9L832.2 890.1L837.7 890.2L843.2 890.3L848.7 890.3L854.2 890.3L859.7 890.3L865.2 890.3L870.7 890.3L876.3 890.2L881.8 890.0L887.3 889.8L892.8 889.6" fill="none" stroke="#000" stroke-width="4.6" stroke-linecap="round" stroke-linejoin="round"/>
<path d="M126.5 696.8L132.0 699.6L137.5 702.3L143.0 705.1L148.6 707.9L154.1 710.6L159.6 713.3L165.1 716.0L170.6 718.6L176.1 721.3L181.6 723.9L187.1 726.5L192.7 729.1L198.2 731.6L203.7 734.2L209.2 736.7L214.7 739.2L220.2 741.6L225.7 744.1L231.2 746.5L236.8 748.9L242.3 751.3L247.8 753.7L253.3 756.1L258.8 758.4L264.3 760.7L269.8 763.0L275.3 765.3L280.9 767.5L286.4 769.7L291.9 771.9L297.4 774.1L302.9 776.3L308.4 778.4L313.9 780.6L319.5 782.7L325.0 784.7L330.5 786.8L336.0 788.8L341.5 790.9L347.0 792.9L352.5 794.8L358.0 796.8L363.6 798.7L369.1 800.6L374.6 802.5L380.1 804.4L385.6 806.3L391.1 808.1L396.6 809.9L402.1 811.7L407.7 813.5L413.2 815.2L418.7 817.0L424.2 818.7L429.7 820.4L435.2 822.0L440.7 823.7L446.3 825.3L451.8 826.9L457.3 828.5L462.8 830.1L468.3 831.6L473.8 833.1L479.3 834.6L484.8 836.1L490.4 837.6L495.9 839.0L501.4 840.4L506.9 841.8L512.4 843.2L517.9 844.6L523.4 845.9L528.9 847.2L534.5 848.5L540.0 849.8L545.5 851.0L551.0 852.3L556.5 853.5L562.0 854.7L567.5 855.8L573.0 857.0L578.6 858.1L584.1 859.2L589.6 860.3L595.1 861.4L600.6 862.4L606.1 863.4L611.6 864.5L617.2 865.4L622.7 866.4L628.2 867.3L633.7 868.3L639.2 869.2L644.7 870.0L650.2 870.9L655.7 871.7L661.3 872.6L666.8 873.4L672.3 874.1L677.8 874.9L683.3 875.6L688.8 876.3L694.3 877.0L699.8 877.7L705.4 878.4L710.9 879.0L716.4 879.6L721.9 880.2L727.4 880.8L732.9 881.3L738.4 881.8L744.0 882.4L749.5 882.8L755.0 883.3L760.5 883.8L766.0 884.2L771.5 884.6L777.0 885.0L782.5 885.3L788.1 885.7L793.6 886.0L799.1 886.3L804.6 886.6L810.1 886.8L815.6 887.1L821.1 887.3L826.6 887.5L832.2 887.7L837.7 887.8L843.2 887.9L848.7 888.1L854.2 888.2L859.7 888.2L865.2 888.3L870.7 888.3L876.3 888.3L881.8 888.3L887.3 888.3L892.8 888.2" fill="none" stroke="#000" stroke-width="4.6" stroke-linecap="round" stroke-linejoin="round"/>
<path d="M126.5 696.8V1148.4H894.7" fill="none" stroke="#808080" stroke-width="2.3" stroke-linejoin="round"/>
<path d="M900.8 269.1L907.6 255.5L914.4 269.1Z" fill="none" stroke="#7f7f7f" stroke-width="2.4" stroke-linejoin="miter"/>
<path d="M900.1 303.6L915.1 318.4M900.1 318.4L915.1 303.6" fill="none" stroke="#7f7f7f" stroke-width="2.4" stroke-linejoin="miter"/>
<path d="M900.4 360.3L907.5 353.2L914.6 360.3L907.5 367.4Z" fill="none" stroke="#7f7f7f" stroke-width="2.4" stroke-linejoin="miter"/>
<path d="M917.7 957.5L924.5 943.9L931.3 957.5Z" fill="none" stroke="#7f7f7f" stroke-width="2.4" stroke-linejoin="miter"/>
<path d="M916.9 991.8L931.9 1006.8M916.9 1006.8L931.9 991.8" fill="none" stroke="#7f7f7f" stroke-width="2.4" stroke-linejoin="miter"/>
<path d="M917.4 1048.7L924.5 1041.6L931.6 1048.7L924.5 1055.8Z" fill="none" stroke="#7f7f7f" stroke-width="2.4" stroke-linejoin="miter"/>
<g fill="#000">
<text x="61.09" y="46.50" font-family='"Liberation Sans", sans-serif' font-weight="normal" font-size="26.76" textLength="39.67" lengthAdjust="spacingAndGlyphs" stroke="#000" stroke-width="0.35">1.1</text>
<text x="84.92" y="121.30" font-family='"Liberation Sans", sans-serif' font-weight="normal" font-size="26.33" textLength="15.87" lengthAdjust="spacingAndGlyphs" stroke="#000" stroke-width="0.35">1</text>
<text x="61.62" y="196.44" font-family='"Liberation Sans", sans-serif' font-weight="normal" font-size="26.01" textLength="39.67" lengthAdjust="spacingAndGlyphs" stroke="#000" stroke-width="0.35">0.9</text>
<text x="61.55" y="271.54" font-family='"Liberation Sans", sans-serif' font-weight="normal" font-size="26.01" textLength="39.67" lengthAdjust="spacingAndGlyphs" stroke="#000" stroke-width="0.35">0.8</text>
<text x="61.76" y="346.64" font-family='"Liberation Sans", sans-serif' font-weight="normal" font-size="26.01" textLength="39.67" lengthAdjust="spacingAndGlyphs" stroke="#000" stroke-width="0.35">0.7</text>
<text x="61.55" y="421.74" font-family='"Liberation Sans", sans-serif' font-weight="normal" font-size="26.01" textLength="39.67" lengthAdjust="spacingAndGlyphs" stroke="#000" stroke-width="0.35">0.6</text>
<text x="61.48" y="496.84" font-family='"Liberation Sans", sans-serif' font-weight="normal" font-size="26.01" textLength="39.67" lengthAdjust="spacingAndGlyphs" stroke="#000" stroke-width="0.35">0.5</text>
<text x="121.73" y="535.84" font-family='"Liberation Sans", sans-serif' font-weight="normal" font-size="26.15" textLength="15.50" lengthAdjust="spacingAndGlyphs" stroke="#000" stroke-width="0.35">0</text>
<text x="226.08" y="535.84" font-family='"Liberation Sans", sans-serif' font-weight="normal" font-size="26.15" textLength="46.51" lengthAdjust="spacingAndGlyphs" stroke="#000" stroke-width="0.35">200</text>
<text x="346.47" y="535.84" font-family='"Liberation Sans", sans-serif' font-weight="normal" font-size="26.15" textLength="46.51" lengthAdjust="spacingAndGlyphs" stroke="#000" stroke-width="0.35">400</text>
<text x="466.08" y="535.84" font-family='"Liberation Sans", sans-serif' font-weight="normal" font-size="26.15" textLength="46.51" lengthAdjust="spacingAndGlyphs" stroke="#000" stroke-width="0.35">600</text>
<text x="586.19" y="535.84" font-family='"Liberation Sans", sans-serif' font-weight="normal" font-size="26.15" textLength="46.51" lengthAdjust="spacingAndGlyphs" stroke="#000" stroke-width="0.35">800</text>
<text x="698.00" y="535.84" font-family='"Liberation Sans", sans-serif' font-weight="normal" font-size="26.15" textLength="62.02" lengthAdjust="spacingAndGlyphs" stroke="#000" stroke-width="0.35">1000</text>
<text x="818.00" y="535.84" font-family='"Liberation Sans", sans-serif' font-weight="normal" font-size="26.15" textLength="62.02" lengthAdjust="spacingAndGlyphs" stroke="#000" stroke-width="0.35">1200</text>
<text x="436.16" y="577.63" font-family='"Liberation Sans", sans-serif' font-weight="bold" font-size="28.18" textLength="124.84" lengthAdjust="spacingAndGlyphs">Time, min</text>
<text x="485.32" y="633.04" font-family='"Liberation Serif", serif' font-weight="normal" font-size="36.03" textLength="12.41" lengthAdjust="spacingAndGlyphs">(</text>
<text x="517.10" y="633.04" font-family='"Liberation Serif", serif' font-weight="normal" font-size="36.03" textLength="12.29" lengthAdjust="spacingAndGlyphs">)</text>
<text x="498.09" y="633.20" font-family='"Liberation Serif", serif' font-weight="bold" font-size="38.50" textLength="18.67" lengthAdjust="spacingAndGlyphs">a</text>
<text x="922.44" y="270.13" font-family='"Liberation Sans", sans-serif' font-weight="normal" font-size="26.86" textLength="74.61" lengthAdjust="spacingAndGlyphs" stroke="#000" stroke-width="0.35">BW30</text>
<text x="922.79" y="319.70" font-family='"Liberation Sans", sans-serif' font-weight="normal" font-size="27.35" textLength="42.98" lengthAdjust="spacingAndGlyphs" stroke="#000" stroke-width="0.35">XLE</text>
<text x="922.88" y="368.93" font-family='"Liberation Sans", sans-serif' font-weight="normal" font-size="27.42" textLength="31.18" lengthAdjust="spacingAndGlyphs" stroke="#000" stroke-width="0.35">CK</text>
<g transform="translate(44.2 383.2) rotate(-90)">
<text x="-1.84" y="0.00" font-family='"Liberation Sans", sans-serif' font-weight="bold" font-size="28.30" textLength="217.09" lengthAdjust="spacingAndGlyphs">Relative flux, f/f0</text>
</g>
<text x="82.52" y="705.40" font-family='"Liberation Sans", sans-serif' font-weight="normal" font-size="26.33" textLength="15.87" lengthAdjust="spacingAndGlyphs" stroke="#000" stroke-width="0.35">1</text>
<text x="59.02" y="795.79" font-family='"Liberation Sans", sans-serif' font-weight="normal" font-size="26.01" textLength="39.67" lengthAdjust="spacingAndGlyphs" stroke="#000" stroke-width="0.35">0.9</text>
<text x="58.95" y="886.14" font-family='"Liberation Sans", sans-serif' font-weight="normal" font-size="26.01" textLength="39.67" lengthAdjust="spacingAndGlyphs" stroke="#000" stroke-width="0.35">0.8</text>
<text x="59.16" y="976.49" font-family='"Liberation Sans", sans-serif' font-weight="normal" font-size="26.01" textLength="39.67" lengthAdjust="spacingAndGlyphs" stroke="#000" stroke-width="0.35">0.7</text>
<text x="58.95" y="1066.84" font-family='"Liberation Sans", sans-serif' font-weight="normal" font-size="26.01" textLength="39.67" lengthAdjust="spacingAndGlyphs" stroke="#000" stroke-width="0.35">0.6</text>
<text x="58.88" y="1157.19" font-family='"Liberation Sans", sans-serif' font-weight="normal" font-size="26.01" textLength="39.67" lengthAdjust="spacingAndGlyphs" stroke="#000" stroke-width="0.35">0.5</text>
<text x="118.73" y="1195.84" font-family='"Liberation Sans", sans-serif' font-weight="normal" font-size="26.15" textLength="15.50" lengthAdjust="spacingAndGlyphs" stroke="#000" stroke-width="0.35">0</text>
<text x="231.18" y="1195.84" font-family='"Liberation Sans", sans-serif' font-weight="normal" font-size="26.15" textLength="46.51" lengthAdjust="spacingAndGlyphs" stroke="#000" stroke-width="0.35">200</text>
<text x="359.67" y="1195.84" font-family='"Liberation Sans", sans-serif' font-weight="normal" font-size="26.15" textLength="46.51" lengthAdjust="spacingAndGlyphs" stroke="#000" stroke-width="0.35">400</text>
<text x="487.38" y="1195.84" font-family='"Liberation Sans", sans-serif' font-weight="normal" font-size="26.15" textLength="46.51" lengthAdjust="spacingAndGlyphs" stroke="#000" stroke-width="0.35">600</text>
<text x="615.59" y="1195.84" font-family='"Liberation Sans", sans-serif' font-weight="normal" font-size="26.15" textLength="46.51" lengthAdjust="spacingAndGlyphs" stroke="#000" stroke-width="0.35">800</text>
<text x="735.50" y="1195.84" font-family='"Liberation Sans", sans-serif' font-weight="normal" font-size="26.15" textLength="62.02" lengthAdjust="spacingAndGlyphs" stroke="#000" stroke-width="0.35">1000</text>
<text x="863.60" y="1195.84" font-family='"Liberation Sans", sans-serif' font-weight="normal" font-size="26.15" textLength="62.02" lengthAdjust="spacingAndGlyphs" stroke="#000" stroke-width="0.35">1200</text>
<text x="420.06" y="1232.51" font-family='"Liberation Sans", sans-serif' font-weight="bold" font-size="27.05" textLength="124.84" lengthAdjust="spacingAndGlyphs">Time, min</text>
<text x="484.62" y="1288.12" font-family='"Liberation Serif", serif' font-weight="normal" font-size="36.14" textLength="12.41" lengthAdjust="spacingAndGlyphs">(</text>
<text x="518.00" y="1288.12" font-family='"Liberation Serif", serif' font-weight="normal" font-size="36.14" textLength="12.29" lengthAdjust="spacingAndGlyphs">)</text>
<text x="498.36" y="1288.54" font-family='"Liberation Serif", serif' font-weight="bold" font-size="35.89" textLength="19.48" lengthAdjust="spacingAndGlyphs">b</text>
<text x="939.24" y="958.23" font-family='"Liberation Sans", sans-serif' font-weight="normal" font-size="26.86" textLength="74.71" lengthAdjust="spacingAndGlyphs" stroke="#000" stroke-width="0.35">BW30</text>
<text x="939.99" y="1008.00" font-family='"Liberation Sans", sans-serif' font-weight="normal" font-size="27.05" textLength="42.46" lengthAdjust="spacingAndGlyphs" stroke="#000" stroke-width="0.35">XLE</text>
<text x="939.67" y="1057.43" font-family='"Liberation Sans", sans-serif' font-weight="normal" font-size="27.42" textLength="31.29" lengthAdjust="spacingAndGlyphs" stroke="#000" stroke-width="0.35">CK</text>
<g transform="translate(26.9 1032.6) rotate(-90)">
<text x="-1.84" y="0.00" font-family='"Liberation Sans", sans-serif' font-weight="bold" font-size="28.30" textLength="216.79" lengthAdjust="spacingAndGlyphs">Relative flux, f/f0</text>
</g>
</g>
</svg>
</body></html>
